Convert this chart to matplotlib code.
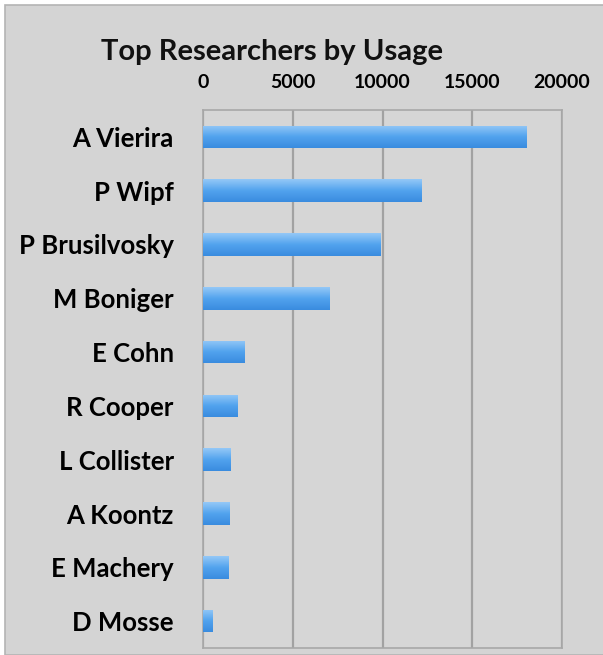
import numpy as np
import matplotlib
matplotlib.use("Agg")
import matplotlib.pyplot as plt
from matplotlib.patches import Rectangle
from matplotlib.colors import LinearSegmentedColormap

# data
researchers = ["A Vierira", "P Wipf", "P Brusilvosky", "M Boniger", "E Cohn",
               "R Cooper", "L Collister", "A Koontz", "E Machery", "D Mosse"]
usage = [18000, 12200, 9900, 7050, 2300, 1900, 1550, 1500, 1400, 550]
x_ticks = [0, 5000, 10000, 15000, 20000]

plt.rcParams['font.family'] = ['Lato', 'DejaVu Sans']

fig = plt.figure(figsize=(6.03, 6.55), dpi=100)
fig.patch.set_facecolor("white")

# grey chart frame, kept behind the axes
frame = Rectangle((5 / 603, 0), 1, 1 - 5 / 655, transform=fig.transFigure,
                  facecolor="#d4d4d4", edgecolor="#b4b4b4", linewidth=1.2, zorder=-5)
fig.patches.append(frame)

ax = fig.add_axes([203 / 603, 1 - 648 / 655, (562 - 203) / 603, (648 - 110) / 655])
ax.set_zorder(2)
ax.set_facecolor("#d6d6d6")

ypos = np.arange(len(researchers))
bars = ax.barh(ypos, usage, height=0.42, color="#4d9ee8", zorder=3)

# vertical gradient on each bar (light top, darker bottom)
cmap = LinearSegmentedColormap.from_list("bar", ["#94c8f7", "#52a3ee", "#3a8cdf"])
grad = np.linspace(0, 1, 64).reshape(-1, 1)
for b in bars:
    x0, y0 = b.get_x(), b.get_y()
    w, h = b.get_width(), b.get_height()
    im = ax.imshow(grad, cmap=cmap, aspect="auto", extent=(x0, x0 + w, y0 + h, y0),
                   zorder=4, interpolation="bilinear")
    im.set_clip_path(b)

ax.set_xlim(0, 20000)
ax.set_ylim(len(researchers) - 0.5, -0.5)
ax.set_xticks(x_ticks)
ax.set_xticklabels([str(t) for t in x_ticks], fontsize=14, fontweight="bold")
ax.xaxis.tick_top()
ax.tick_params(axis="x", length=0, pad=14)
ax.set_yticks(ypos)
ax.set_yticklabels(researchers, fontsize=18.5, fontweight="bold")
ax.tick_params(axis="y", length=0, pad=21)

ax.grid(axis="x", color="#a2a2a2", linewidth=1.6, zorder=1)
ax.set_axisbelow(True)
for side in ["left", "top", "right", "bottom"]:
    ax.spines[side].set_color("#a8a8a8")
    ax.spines[side].set_linewidth(1.2)

fig.text(272 / 603, 1 - 52 / 655, "Top Researchers by Usage", ha="center", va="center",
         fontsize=21, fontweight="bold", color="#111111", zorder=5)

fig.savefig("out.png", dpi=100, facecolor=fig.get_facecolor())
